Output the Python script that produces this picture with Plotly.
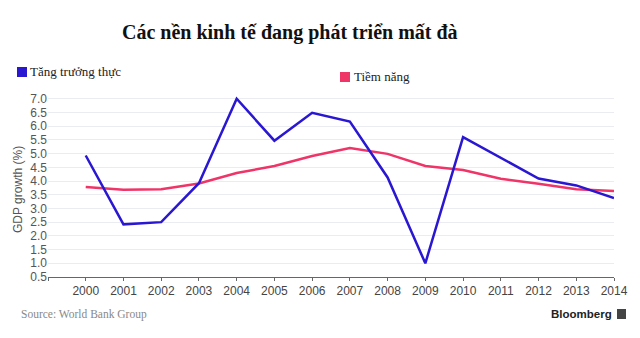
import plotly.graph_objects as go

# Years and GDP growth series (%)
years = list(range(2000, 2015))
actual_growth = [4.93, 2.42, 2.5, 3.92, 7.0, 5.47, 6.49, 6.17, 4.13, 1.0, 5.6, 4.86, 4.09, 3.84, 3.38]
potential_growth = [3.78, 3.68, 3.7, 3.91, 4.29, 4.55, 4.91, 5.2, 4.99, 4.55, 4.4, 4.08, 3.9, 3.7, 3.64]

y_ticks = [0.5, 1.0, 1.5, 2.0, 2.5, 3.0, 3.5, 4.0, 4.5, 5.0, 5.5, 6.0, 6.5, 7.0]
x_ticks = [1999] + years
x_tick_text = [""] + [str(y) for y in years]

BLUE = "#2a17d2"
RED = "#ef3468"

fig = go.Figure()
fig.add_trace(go.Scatter(x=years, y=potential_growth, mode="lines",
                         line=dict(color=RED, width=2.5), name="Tiềm năng"))
fig.add_trace(go.Scatter(x=years, y=actual_growth, mode="lines",
                         line=dict(color=BLUE, width=2.5), name="Tăng trưởng thực"))

fig.update_layout(
    width=640, height=338,
    margin=dict(l=48, r=26, t=96, b=61),
    paper_bgcolor="white", plot_bgcolor="white",
    showlegend=False,
    xaxis=dict(range=[1999, 2014], tickvals=x_ticks, ticktext=x_tick_text,
               showgrid=False, zeroline=False, showline=True, linecolor="#666",
               linewidth=1, ticks="outside", ticklen=3, tickcolor="#666",
               tickfont=dict(family="Liberation Sans, Arial", size=12, color="#444")),
    yaxis=dict(range=[0.5, 7.1], tickvals=y_ticks,
               ticktext=[f"{v:.1f}" for v in y_ticks],
               showgrid=True, gridcolor="#ebebf2", gridwidth=1, zeroline=False,
               showline=False, ticks="",
               tickfont=dict(family="Liberation Sans, Arial", size=12, color="#555")),
)

# Title
fig.add_annotation(text="<b>Các nền kinh tế đang phát triển mất đà</b>",
                   xref="paper", yref="paper", x=(290 - 48) / 566, y=1 + (96 - 32) / 181,
                   xanchor="center", yanchor="middle", showarrow=False,
                   font=dict(family="Liberation Serif, Times New Roman", size=20, color="#111"))

# Legend swatches and labels
fig.add_shape(type="rect", xref="paper", yref="paper",
              x0=(17 - 48) / 566, x1=(27 - 48) / 566,
              y0=1 + (96 - 77) / 181, y1=1 + (96 - 67) / 181,
              fillcolor=BLUE, line=dict(width=0))
fig.add_annotation(text="Tăng trưởng thực", xref="paper", yref="paper",
                   x=(28 - 48) / 566, y=1 + (96 - 71) / 181, xanchor="left", yanchor="middle",
                   showarrow=False,
                   font=dict(family="Liberation Serif, Times New Roman", size=13, color="#222"))
fig.add_shape(type="rect", xref="paper", yref="paper",
              x0=(340 - 48) / 566, x1=(350 - 48) / 566,
              y0=1 + (96 - 82) / 181, y1=1 + (96 - 72) / 181,
              fillcolor=RED, line=dict(width=0))
fig.add_annotation(text="Tiềm năng", xref="paper", yref="paper",
                   x=(352 - 48) / 566, y=1 + (96 - 77) / 181, xanchor="left", yanchor="middle",
                   showarrow=False,
                   font=dict(family="Liberation Serif, Times New Roman", size=13, color="#222"))

# Y axis title
fig.add_annotation(text="GDP growth (%)", xref="paper", yref="paper",
                   x=(18 - 48) / 566, y=1 - (190 - 96) / 181, textangle=-90,
                   xanchor="center", yanchor="middle", showarrow=False,
                   font=dict(family="Liberation Sans, Arial", size=12, color="#555"))

# Footer: source and branding
fig.add_annotation(text="Source: World Bank Group", xref="paper", yref="paper",
                   x=(19 - 48) / 566, y=-(314 - 277) / 181, xanchor="left", yanchor="middle",
                   showarrow=False,
                   font=dict(family="Liberation Serif, Times New Roman", size=11.5, color="#888"))
fig.add_annotation(text="<b>Bloomberg</b>", xref="paper", yref="paper",
                   x=(614 - 48) / 566, y=-(314 - 277) / 181, xanchor="right", yanchor="middle",
                   showarrow=False,
                   font=dict(family="Liberation Sans, Arial", size=11.5, color="#222"))
fig.add_shape(type="rect", xref="paper", yref="paper",
              x0=(617 - 48) / 566, x1=(626 - 48) / 566,
              y0=-(319 - 277) / 181, y1=-(309 - 277) / 181,
              fillcolor="#444", line=dict(width=0))

fig.write_html("out.html")
